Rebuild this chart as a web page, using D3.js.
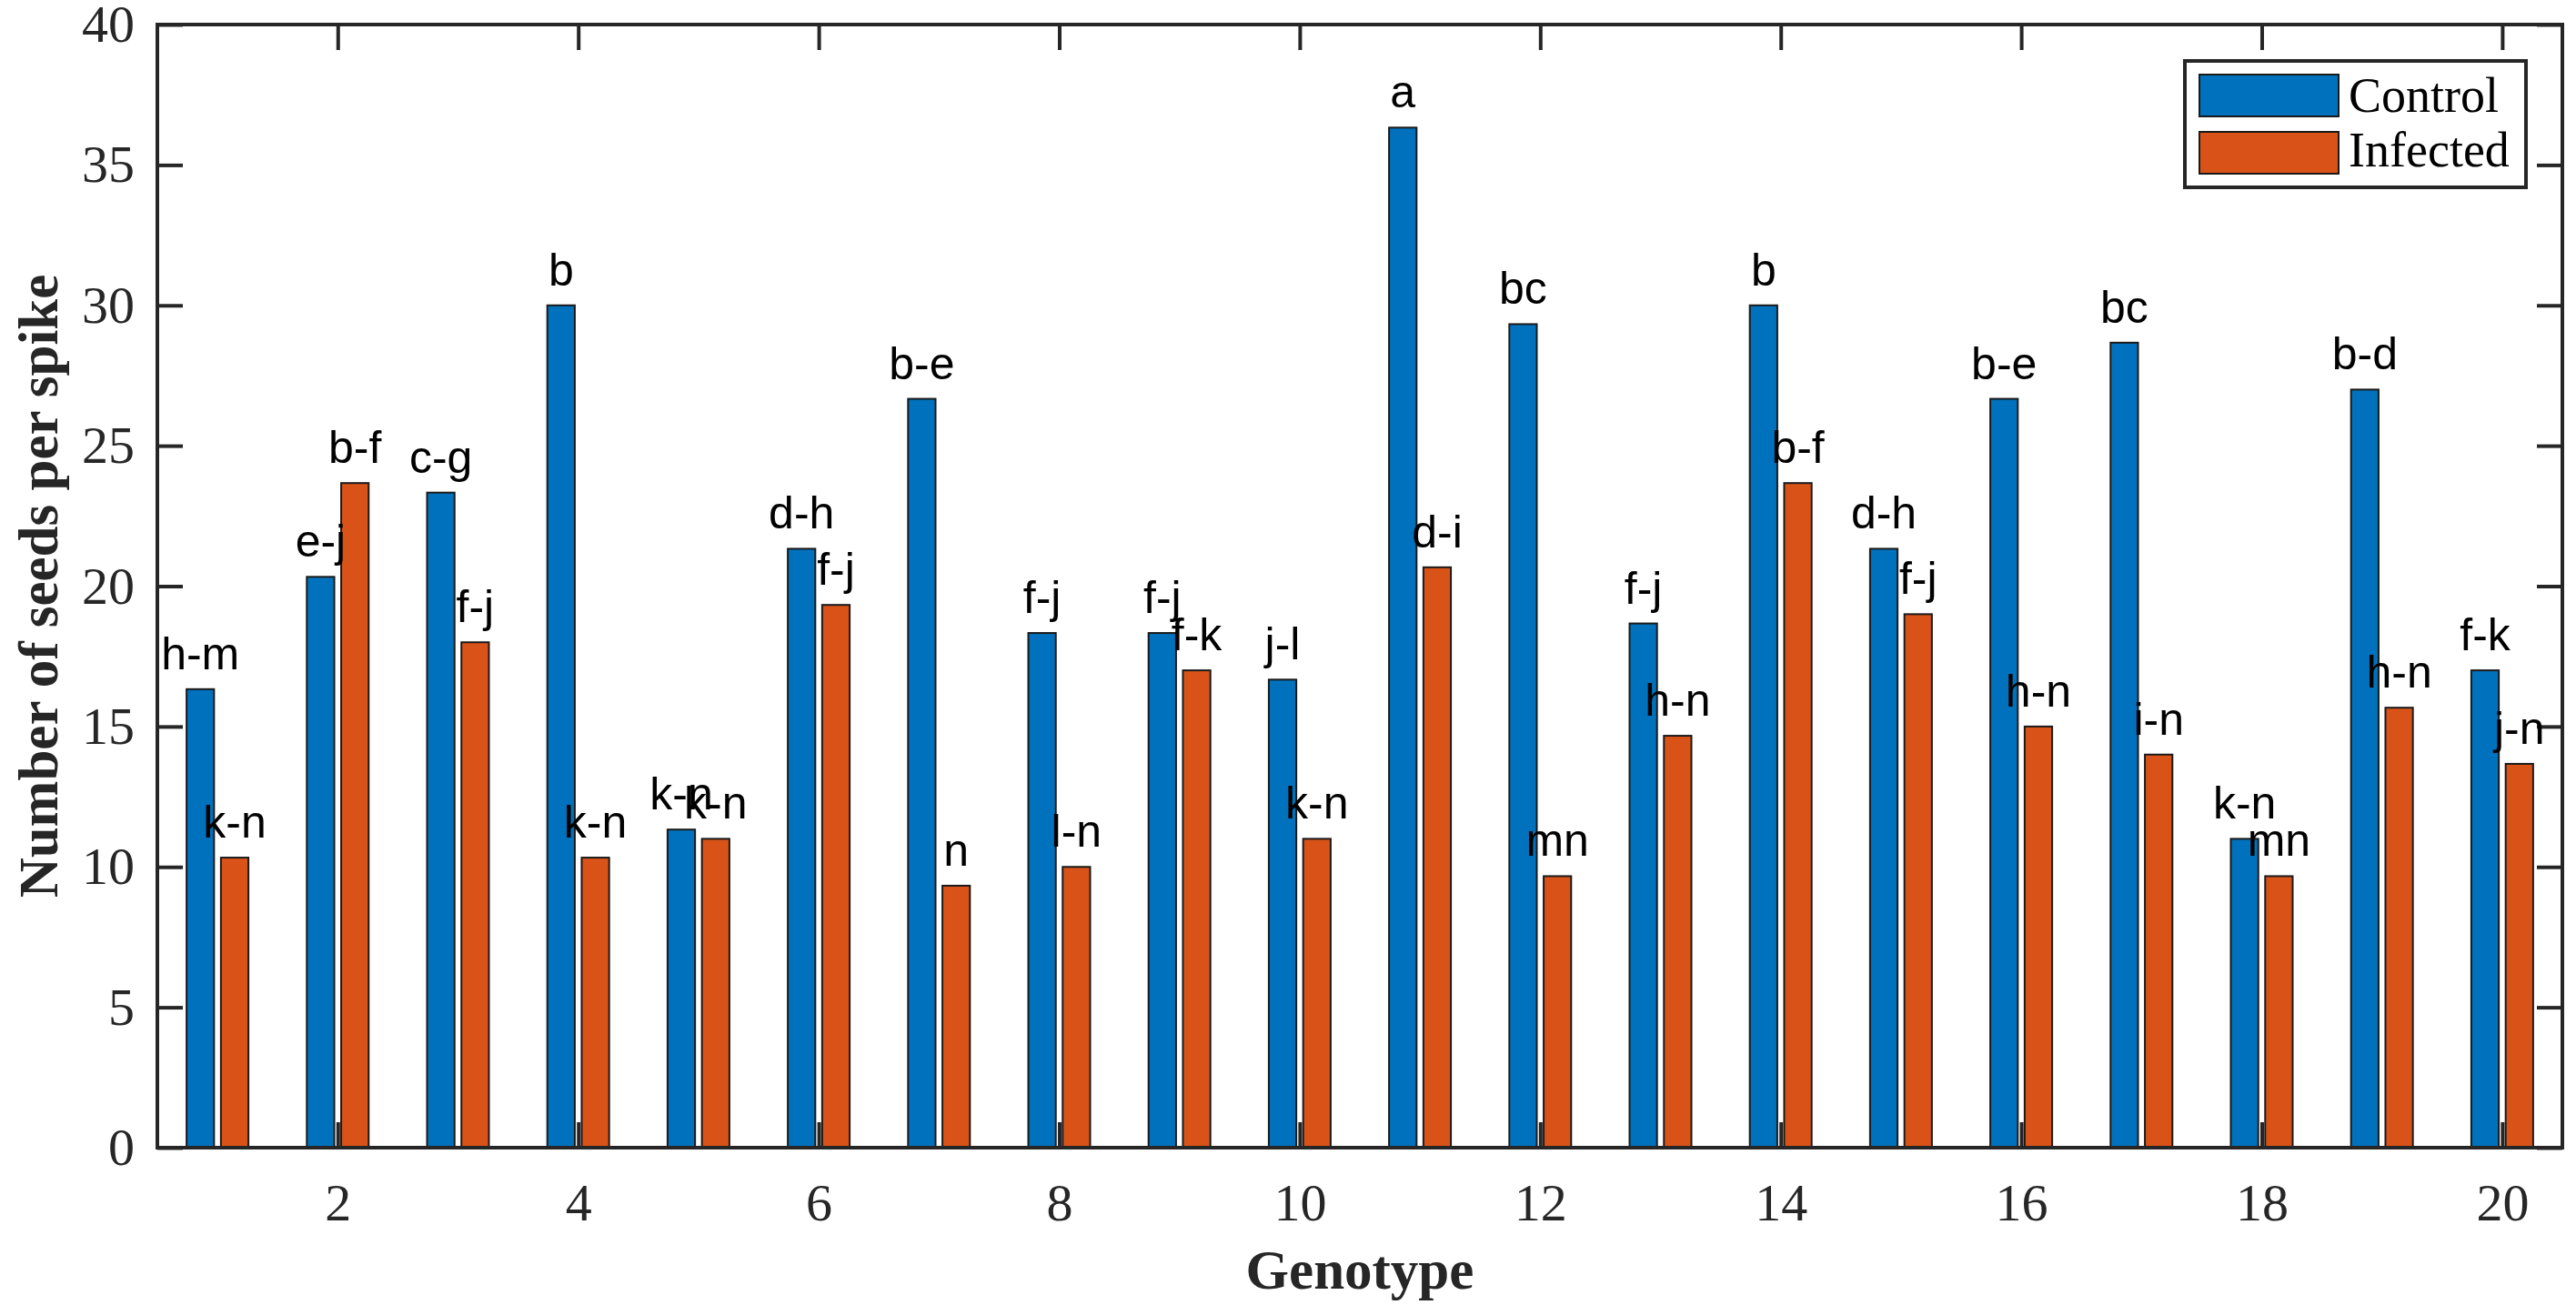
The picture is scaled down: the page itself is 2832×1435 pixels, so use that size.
<!DOCTYPE html>
<html lang="en">
<head>
    <meta charset="UTF-8">
    <title>Number of seeds per spike by genotype</title>
    <script src="https://cdn.jsdelivr.net/npm/d3@7"></script>
    <style>
        body {
            margin: 0;
            background: #fff;
            overflow: hidden;
        }
        svg {
            display: block;
        }
        .tick text {
            font-family: "Liberation Serif", "Times New Roman", serif;
            font-size: 58px;
            fill: #262626;
        }
        .tick line {
            stroke: #262626;
            stroke-width: 4px;
        }
        .letter {
            font-family: "Liberation Sans", Arial, sans-serif;
            font-size: 50px;
            fill: #000;
        }
        .title {
            font-family: "Liberation Serif", "Times New Roman", serif;
            font-size: 61px;
            font-weight: bold;
            fill: #262626;
        }
        .legend text {
            font-family: "Liberation Serif", "Times New Roman", serif;
            font-size: 54px;
            fill: #000;
        }
    </style>
</head>
<body>
    <svg></svg>
    <script>
        // genotypes 1..20
        const genotypes = d3.range(1, 21);
        const control = [16.33, 20.33, 23.33, 30.0, 11.33, 21.33, 26.67, 18.33, 18.33, 16.67,
                         36.33, 29.33, 18.67, 30.0, 21.33, 26.67, 28.67, 11.0, 27.0, 17.0];
        const infected = [10.33, 23.67, 18.0, 10.33, 11.0, 19.33, 9.33, 10.0, 17.0, 11.0,
                          20.67, 9.67, 14.67, 23.67, 19.0, 15.0, 14.0, 9.67, 15.67, 13.67];
        const controlLetters = ["h-m", "e-j", "c-g", "b", "k-n", "d-h", "b-e", "f-j", "f-j", "j-l",
                                "a", "bc", "f-j", "b", "d-h", "b-e", "bc", "k-n", "b-d", "f-k"];
        const infectedLetters = ["k-n", "b-f", "f-j", "k-n", "k-n", "f-j", "n", "l-n", "f-k", "k-n",
                                 "d-i", "mn", "h-n", "b-f", "f-j", "h-n", "i-n", "mn", "h-n", "j-n"];
        const seriesNames = ["Control", "Infected"];
        const seriesColors = ["#0072BD", "#D95319"];
        const xTicks = d3.range(2, 21, 2);
        const yTicks = d3.range(0, 41, 5);

        const width = 2832, height = 1435;
        const margin = { top: 27, right: 15, bottom: 173, left: 173 };

        const svg = d3.select("svg")
            .attr("width", width)
            .attr("height", height);

        const x = d3.scaleLinear()
            .domain([0.5, 20.5])
            .range([margin.left, width - margin.right]);
        const y = d3.scaleLinear()
            .domain([0, 40])
            .range([height - margin.bottom, margin.top]);

        // MATLAB-style grouped bar geometry
        const groupWidth = Math.min(0.8, 2 / (2 + 1.5));
        const barW = 0.8 * groupWidth / 2;
        const offsets = [-groupWidth / 4, groupWidth / 4];

        const series = [control, infected];
        const letters = [controlLetters, infectedLetters];

        const bars = svg.append("g");
        series.forEach((vals, s) => {
            bars.selectAll(null)
                .data(genotypes)
                .join("rect")
                .attr("x", (g, i) => x(g + offsets[s] - barW / 2))
                .attr("width", x(barW) - x(0))
                .attr("y", (g, i) => y(vals[i]))
                .attr("height", (g, i) => y(0) - y(vals[i]))
                .attr("fill", seriesColors[s])
                .attr("stroke", "#1a1a1a")
                .attr("stroke-width", 2);
        });

        // axes (ticks point inward, MATLAB box)
        const gx = svg.append("g")
            .attr("transform", `translate(0,${y(0)})`)
            .call(d3.axisBottom(x).tickValues(xTicks).tickSizeInner(-28).tickSizeOuter(0).tickPadding(39));
        const gxTop = svg.append("g")
            .attr("transform", `translate(0,${y(40)})`)
            .call(d3.axisTop(x).tickValues(xTicks).tickSizeInner(-28).tickSizeOuter(0).tickFormat(""));
        const gy = svg.append("g")
            .attr("transform", `translate(${x(0.5)},0)`)
            .call(d3.axisLeft(y).tickValues(yTicks).tickSizeInner(-28).tickSizeOuter(0).tickPadding(25));
        const gyRight = svg.append("g")
            .attr("transform", `translate(${x(20.5)},0)`)
            .call(d3.axisRight(y).tickValues(yTicks).tickSizeInner(-28).tickSizeOuter(0).tickFormat(""));
        [gx, gxTop, gy, gyRight].forEach(g => g.select(".domain").remove());

        svg.append("rect")
            .attr("x", x(0.5))
            .attr("y", y(40))
            .attr("width", x(20.5) - x(0.5))
            .attr("height", y(0) - y(40))
            .attr("fill", "none")
            .attr("stroke", "#262626")
            .attr("stroke-width", 4);

        // significance letters above bars
        const lab = svg.append("g");
        series.forEach((vals, s) => {
            lab.selectAll(null)
                .data(genotypes)
                .join("text")
                .attr("class", "letter")
                .attr("text-anchor", "middle")
                .attr("x", (g, i) => x(g + offsets[s]))
                .attr("y", (g, i) => y(vals[i]) - 22)
                .text((g, i) => letters[s][i]);
        });

        // axis titles
        svg.append("text")
            .attr("class", "title")
            .attr("text-anchor", "middle")
            .attr("x", (x(0.5) + x(20.5)) / 2)
            .attr("y", 1417)
            .text("Genotype");
        svg.append("text")
            .attr("class", "title")
            .attr("text-anchor", "middle")
            .attr("transform", `translate(63,${(y(0) + y(40)) / 2}) rotate(-90)`)
            .text("Number of seeds per spike");

        // legend
        const legend = svg.append("g").attr("class", "legend");
        legend.append("rect")
            .attr("x", 2402).attr("y", 67)
            .attr("width", 375).attr("height", 139)
            .attr("fill", "#fff")
            .attr("stroke", "#262626")
            .attr("stroke-width", 4);
        seriesNames.forEach((name, s) => {
            legend.append("rect")
                .attr("x", 2418).attr("y", 82 + s * 63)
                .attr("width", 153).attr("height", 46)
                .attr("fill", seriesColors[s])
                .attr("stroke", "#1a1a1a")
                .attr("stroke-width", 2);
            legend.append("text")
                .attr("x", 2582).attr("y", 123 + s * 60)
                .text(name);
        });
    </script>
</body>
</html>
